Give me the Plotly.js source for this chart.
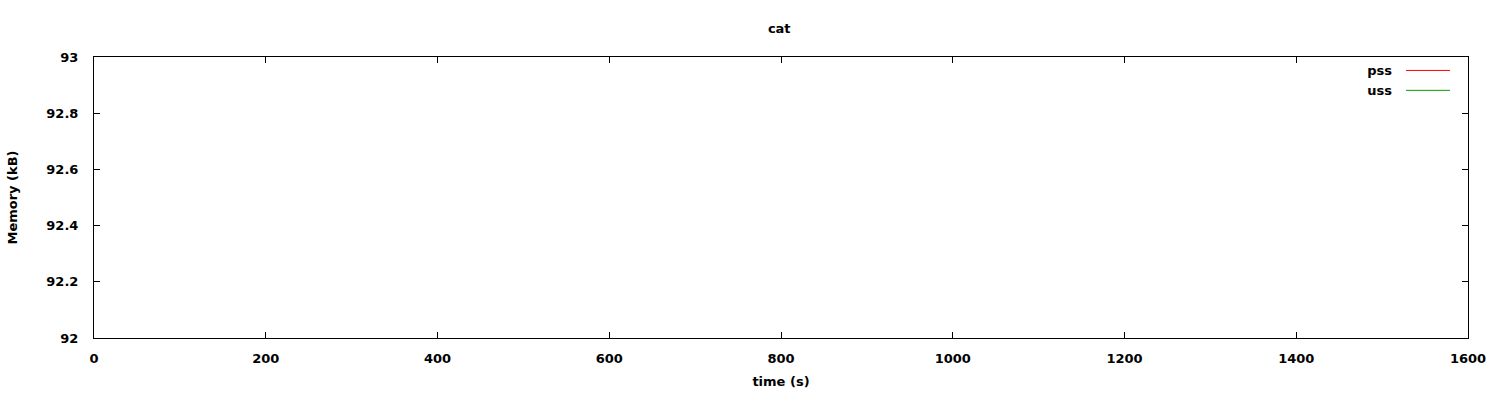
<!DOCTYPE html>
<html>
<head>
<meta charset="utf-8">
<script src="https://cdn.plot.ly/plotly-3.0.1.min.js"></script>
<style>html,body{margin:0;padding:0;background:#fff}#chart{width:1500px;height:400px}</style>
</head>
<body>
<div id="chart"></div>
<script>
// Data: the reference plot shows no visible samples for either series (placeholders only)
const seriesNames = ["pss", "uss"];
const seriesColors = ["#ff0000", "#00a000"];
const timeS = [null];
const pssKB = [null];
const ussKB = [null];
const xTicks = [0, 200, 400, 600, 800, 1000, 1200, 1400, 1600];
const yTicks = [92, 92.2, 92.4, 92.6, 92.8, 93];

const font = {family: "DejaVu Sans", size: 13, color: "#000", weight: "bold"};

const traces = [
  {x: timeS, y: pssKB, name: seriesNames[0], type: "scatter", mode: "lines", showlegend: true, line: {color: seriesColors[0], width: 1}},
  {x: timeS, y: ussKB, name: seriesNames[1], type: "scatter", mode: "lines", showlegend: true, line: {color: seriesColors[1], width: 1}}
];

const axisCommon = {
  showgrid: false, zeroline: false, showline: true, mirror: "ticks",
  linecolor: "#000", linewidth: 1, ticks: "inside", ticklen: 6, tickwidth: 1, tickcolor: "#000",
  tickfont: font
};

const layout = {
  width: 1500, height: 400,
  margin: {l: 94, r: 32, t: 57, b: 62},
  paper_bgcolor: "#fff", plot_bgcolor: "#fff",
  font: font,
  title: {text: "cat", font: font, x: 0.5195, xanchor: "center", y: 1 - 28/400, yanchor: "middle"},
  xaxis: Object.assign({}, axisCommon, {
    range: [0, 1600], tickvals: xTicks, ticktext: xTicks.map(String),
    ticklabelstandoff: 8,
    title: {text: "time (s)", font: font, standoff: 12}
  }),
  yaxis: Object.assign({}, axisCommon, {
    range: [92, 93], tickvals: yTicks, ticktext: yTicks.map(v => String(+v.toFixed(1))),
    ticklabelstandoff: 12,
    title: {text: "Memory (kB)", font: font, standoff: 25}
  }),
  showlegend: true,
  legend: {
    x: 1, xanchor: "right", y: 1 + 2/281, yanchor: "top",
    bgcolor: "rgba(0,0,0,0)", borderwidth: 0, font: font,
    tracegroupgap: 0
  }
};

Plotly.newPlot("chart", traces, layout, {staticPlot: true, displayModeBar: false}).then(function (gd) {
  // gnuplot-style legend: text right-aligned on the left, line sample on the right
  gd.querySelectorAll(".legend [clip-path]").forEach(function (el) { el.removeAttribute("clip-path"); });
  const leg = gd.querySelector(".legend");
  if (leg) leg.removeAttribute("clip-path");
  const items = gd.querySelectorAll(".legend .traces");
  items.forEach(function (g) {
    const txt = g.querySelector("text.legendtext");
    const path = g.querySelector(".legendlines path");
    if (txt) { txt.setAttribute("x", "-5"); txt.setAttribute("text-anchor", "end"); }
    if (path) { path.setAttribute("d", "M9,0.5h44"); path.style.opacity = "1"; path.style.strokeOpacity = "1"; }
  });
});
</script>
</body>
</html>
